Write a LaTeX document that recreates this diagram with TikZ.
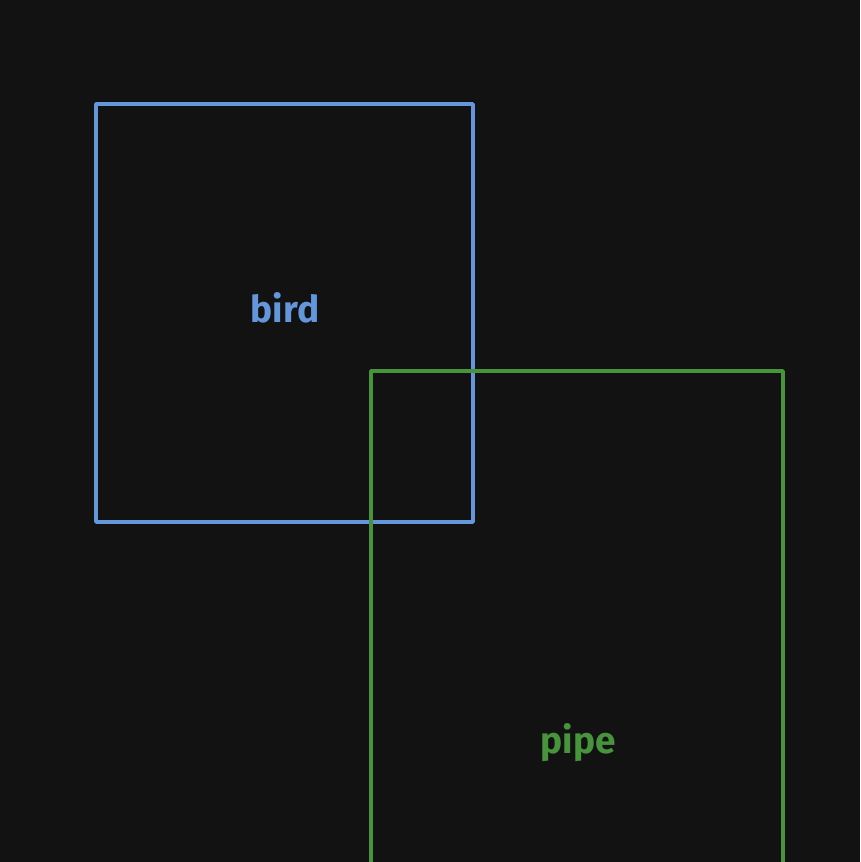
\documentclass[tikz,border=0pt]{standalone}
\usepackage{fontspec}
\setmainfont{Fira Sans}
\usepackage{xcolor}
\definecolor{bg}{HTML}{121212}
\definecolor{birdblue}{HTML}{6496DC}
\definecolor{pipegreen}{HTML}{47943C}
\tikzset{
  boxline/.style={line width=3.5pt, line join=round},
  label/.style={font=\fontsize{37}{44}\selectfont\bfseries}
}

\begin{document}
\begin{tikzpicture}[x=1pt, y=-1pt]
    \useasboundingbox (0,0) rectangle (860,862);
    \fill[bg] (0,0) rectangle (860,862);
    \clip (0,0) rectangle (860,862);
    \draw[boxline, birdblue] (96,104) rectangle (473,522);
    \node[label, text=birdblue] (bird) at (285,308) {bird};
    \draw[boxline, pipegreen] (371,371) rectangle (783,900);
    \node[label, text=pipegreen] (pipe) at (578,743) {pipe};
\end{tikzpicture}
\end{document}
